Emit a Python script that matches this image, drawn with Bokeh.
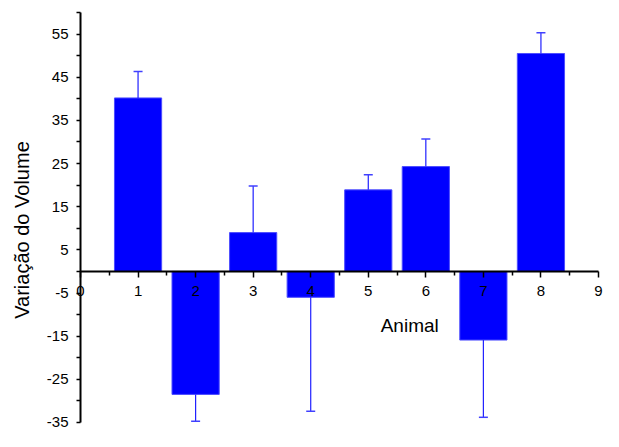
import math
from bokeh.plotting import figure
from bokeh.models import (ColumnDataSource, LinearAxis, FixedTicker, Label, Range1d,
                          PrintfTickFormatter)
from bokeh.embed import file_html
from bokeh.resources import INLINE

animals = [1, 2, 3, 4, 5, 6, 7, 8]
values = [40.2, -28.5, 9.0, -6.0, 18.9, 24.3, -15.9, 50.5]
errors = [6.1, 6.2, 10.8, 26.4, 3.5, 6.4, 17.9, 4.8]

y_major = [-35, -25, -15, -5, 5, 15, 25, 35, 45, 55]
y_minor = [-30, -20, -10, 0, 10, 20, 30, 40, 50, 60]
x_major = [0, 1, 2, 3, 4, 5, 6, 7, 8, 9]
x_minor = [0.5, 1.5, 2.5, 3.5, 4.5, 5.5, 6.5, 7.5, 8.5]

tips = [v + (e if v >= 0 else -e) for v, e in zip(values, errors)]
src = ColumnDataSource(dict(x=animals, top=values, tip=tips))

FONT = "Liberation Sans"

p = figure(width=603, height=431, output_backend="svg", toolbar_location=None,
           x_range=Range1d(-1.39, 9.087), y_range=Range1d(-37.09, 62.78),
           x_axis_location=None, y_axis_location=None, min_border=0)
p.outline_line_color = None
p.xgrid.visible = False
p.ygrid.visible = False
p.background_fill_color = "white"
p.border_fill_color = "white"

p.vbar(x="x", top="top", bottom=0, width=0.82, source=src,
       fill_color="#0000ff", line_color="#4d4dff", line_width=1)
p.segment(x0="x", y0="top", x1="x", y1="tip", source=src, line_color="#2020ff", line_width=1.2)
p.scatter(x="x", y="tip", marker="dash", size=9, source=src, line_color="#4040ff", line_width=1.5)

fmt = PrintfTickFormatter(format="%d")

yaxis = LinearAxis(ticker=FixedTicker(ticks=y_major, minor_ticks=y_minor),
                   fixed_location=0, bounds=(-35, 60), formatter=fmt)
yaxis.axis_line_width = 2
yaxis.major_tick_in = 0
yaxis.major_tick_out = 4
yaxis.minor_tick_in = 0
yaxis.minor_tick_out = 4
yaxis.major_tick_line_width = 1.5
yaxis.minor_tick_line_width = 1.5
yaxis.major_label_text_font = FONT
yaxis.major_label_text_font_size = "15px"
yaxis.major_label_text_color = "black"
yaxis.major_label_standoff = 8
p.add_layout(yaxis, "left")

xaxis = LinearAxis(ticker=FixedTicker(ticks=x_major, minor_ticks=x_minor),
                   fixed_location=0, bounds=(0, 9), formatter=fmt)
xaxis.axis_line_width = 2
xaxis.major_tick_in = 0
xaxis.major_tick_out = 6
xaxis.minor_tick_in = 0
xaxis.minor_tick_out = 4
xaxis.major_tick_line_width = 1.5
xaxis.minor_tick_line_width = 1.5
xaxis.major_label_text_font = FONT
xaxis.major_label_text_font_size = "15px"
xaxis.major_label_text_color = "black"
xaxis.major_label_standoff = 9
p.add_layout(xaxis, "below")

p.add_layout(Label(x=5.72, y=-12.5, text="Animal", text_font=FONT, text_font_size="19px",
                   text_color="black", text_align="center", text_baseline="alphabetic"))
p.add_layout(Label(x=-1.02, y=9.6, text="Variação do Volume", angle=math.pi / 2,
                   text_font=FONT, text_font_size="20px", text_color="black",
                   text_align="center", text_baseline="alphabetic"))

open("out.html", "w").write(file_html(p, INLINE))
